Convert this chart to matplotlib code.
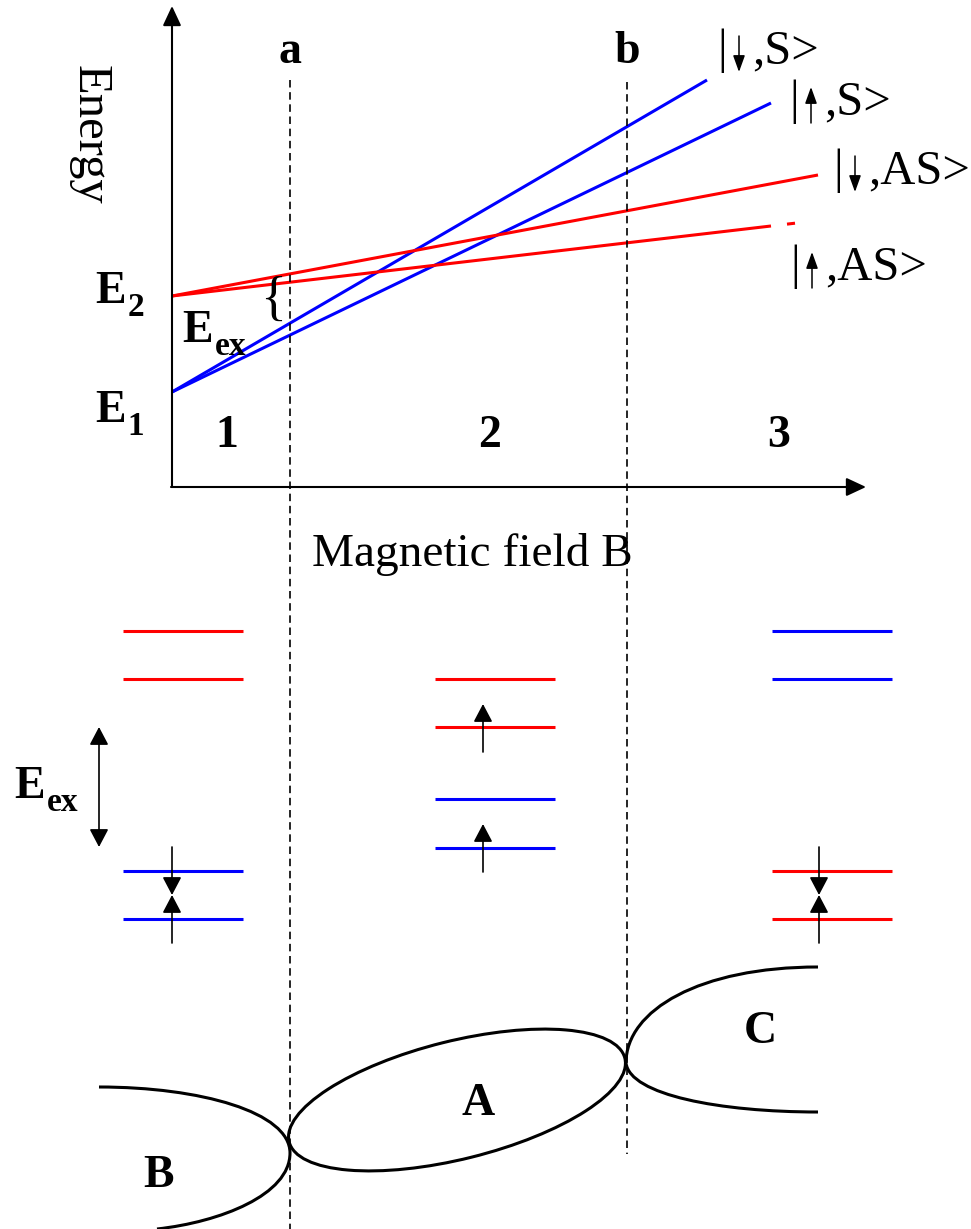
import matplotlib.pyplot as plt
from matplotlib.patches import Ellipse, PathPatch
from matplotlib.path import Path

plt.rcParams['font.family'] = ['Liberation Serif', 'DejaVu Serif']

# --- level fan vs magnetic field (pixel coordinates of the schematic) ---
axis_x0, axis_y0 = 172, 487
axis_top, axis_right = 6, 866
state_names = [',S>', ',S>', ',AS>', ',AS>']
state_spin = ['down', 'up', 'down', 'up']
state_colors = ['blue', 'blue', 'red', 'red']
state_y0 = [392, 392, 296, 296]
state_x1 = [707, 771, 818, 771]
state_y1 = [80, 103, 175, 226]
label_x = [722, 794, 838, 795]
label_y = [63, 114, 183, 279]

# crossing fields a and b
cross_names = ['a', 'b']
cross_x = [290, 627]
cross_top = [80, 82]
cross_bottom = [1229, 1154]

region_names = ['1', '2', '3']
region_x = [227, 490, 779]

# --- level schemes in the three regions ---
col_x0 = [123, 435, 772]
col_x1 = [243, 555, 892]
col_levels = [[631, 679, 871, 919], [679, 727, 799, 848], [631, 679, 871, 919]]
col_colors = [['red', 'red', 'blue', 'blue'],
              ['red', 'red', 'blue', 'blue'],
              ['blue', 'blue', 'red', 'red']]
# small arrows: x, tail, tip
small_arrows = [(172, 847, 895), (172, 943, 895),
                (483, 752, 704), (483, 872, 824),
                (819, 847, 895), (819, 943, 895)]

fig = plt.figure(figsize=(9.71, 12.29), dpi=100)
ax = fig.add_axes([0, 0, 1, 1])
ax.set_xlim(0, 971)
ax.set_ylim(1229, 0)
ax.axis('off')
renderer = fig.canvas.get_renderer()


def sub_label(x, y, main, sub, size=33, sub_size=24, drop=13):
    t = ax.text(x, y, main, fontsize=size, fontweight='bold', ha='left', va='baseline')
    bb = t.get_window_extent(renderer)
    ax.text(bb.x1 + 2, y + drop, sub, fontsize=sub_size, fontweight='bold',
            ha='left', va='baseline')


def arrow(x, tail, tip, style='-|>', lw=1.2, hl=0.55, hw=0.29):
    ax.annotate('', xy=(x, tip), xytext=(x, tail),
                arrowprops=dict(arrowstyle=f'{style},head_length={hl},head_width={hw}',
                                color='black', lw=lw, shrinkA=0, shrinkB=0,
                                mutation_scale=20))


head = dict(color='black', lw=1.5, shrinkA=0, shrinkB=0, mutation_scale=20)
ax.annotate('', xy=(axis_x0, axis_top), xytext=(axis_x0, axis_y0),
            arrowprops=dict(arrowstyle='-|>,head_length=0.6,head_width=0.28', **head))
ax.annotate('', xy=(axis_right, axis_y0), xytext=(axis_x0 - 1, axis_y0),
            arrowprops=dict(arrowstyle='-|>,head_length=0.6,head_width=0.28', **head))

for y0, x1, y1, c in zip(state_y0, state_x1, state_y1, state_colors):
    ax.plot([axis_x0, x1], [y0, y1], color=c, lw=2.2, solid_capstyle='butt')
# tiny stub after |↑,AS>
slope = (state_y1[3] - state_y0[3]) / (state_x1[3] - axis_x0)
ax.plot([787, 795], [state_y1[3] + slope * 16, state_y1[3] + slope * 24],
        color='red', lw=2.2, solid_capstyle='butt')

# ket labels |spin,S> drawn as bar + arrow + rest
for name, spin, x, yl in zip(state_names, state_spin, label_x, label_y):
    ax.text(x, yl, '|', fontsize=35, ha='center', va='baseline')
    top, bot = yl - 27, yl + 9
    if spin == 'down':
        arrow(x + 17, top, bot, lw=1.1, hl=0.5, hw=0.18)
    else:
        arrow(x + 17, bot, top, lw=1.1, hl=0.5, hw=0.18)
    ax.text(x + 30, yl, name, fontsize=35, ha='left', va='baseline')

for name, x, y0, y1 in zip(cross_names, cross_x, cross_top, cross_bottom):
    ax.plot([x, x], [y0, y1], color='black', lw=1.2, linestyle=(0, (4.5, 2.8)))
    ax.text(x, 63, name, fontsize=33, fontweight='bold', ha='center', va='baseline')

for name, x in zip(region_names, region_x):
    ax.text(x, 447, name, fontsize=33, fontweight='bold', ha='center', va='baseline')

ax.text(90, 135, 'Energy', fontsize=35, rotation=-90, ha='center', va='center')
ax.text(312, 566, 'Magnetic field B', fontsize=34, ha='left', va='baseline')
sub_label(95, 303, 'E', '2')
sub_label(95, 422, 'E', '1')
sub_label(182, 342, 'E', 'ex')
ax.text(273, 302, '{', fontsize=39, ha='center', va='center')

# level schemes
for x0, x1, levels, colors in zip(col_x0, col_x1, col_levels, col_colors):
    for y, c in zip(levels, colors):
        ax.plot([x0, x1], [y, y], color=c, lw=2.2, solid_capstyle='butt')

for x, tail, tip in small_arrows:
    arrow(x, tail, tip)
arrow(99, 847, 727, style='<|-|>')
sub_label(14, 798, 'E', 'ex')

# --- bottom: regions B, A, C ---
ax.add_patch(Ellipse((457, 1100), 2 * 173, 2 * 59, angle=-14, fill=False,
                     edgecolor='black', lw=2.2))
b_curve = [(99, 1087), (200, 1087), (290, 1112), (290, 1153),
           (290, 1195), (220, 1222), (157, 1229)]
c_upper = [(626, 1063), (626, 1010), (700, 967), (818, 967)]
c_lower = [(626, 1063), (630, 1095), (720, 1112), (818, 1112)]
codes_b = [Path.MOVETO] + [Path.CURVE4] * 6
codes_c = [Path.MOVETO] + [Path.CURVE4] * 3
ax.add_patch(PathPatch(Path(b_curve, codes_b), fill=False, lw=2.2, edgecolor='black'))
ax.add_patch(PathPatch(Path(c_upper, codes_c), fill=False, lw=2.2, edgecolor='black'))
ax.add_patch(PathPatch(Path(c_lower, codes_c), fill=False, lw=2.2, edgecolor='black'))

ax.text(478, 1104, 'A', fontsize=33, fontweight='bold', ha='center', va='center')
ax.text(158, 1176, 'B', fontsize=33, fontweight='bold', ha='center', va='center')
ax.text(760, 1032, 'C', fontsize=33, fontweight='bold', ha='center', va='center')

fig.savefig('out.png', dpi=100)
